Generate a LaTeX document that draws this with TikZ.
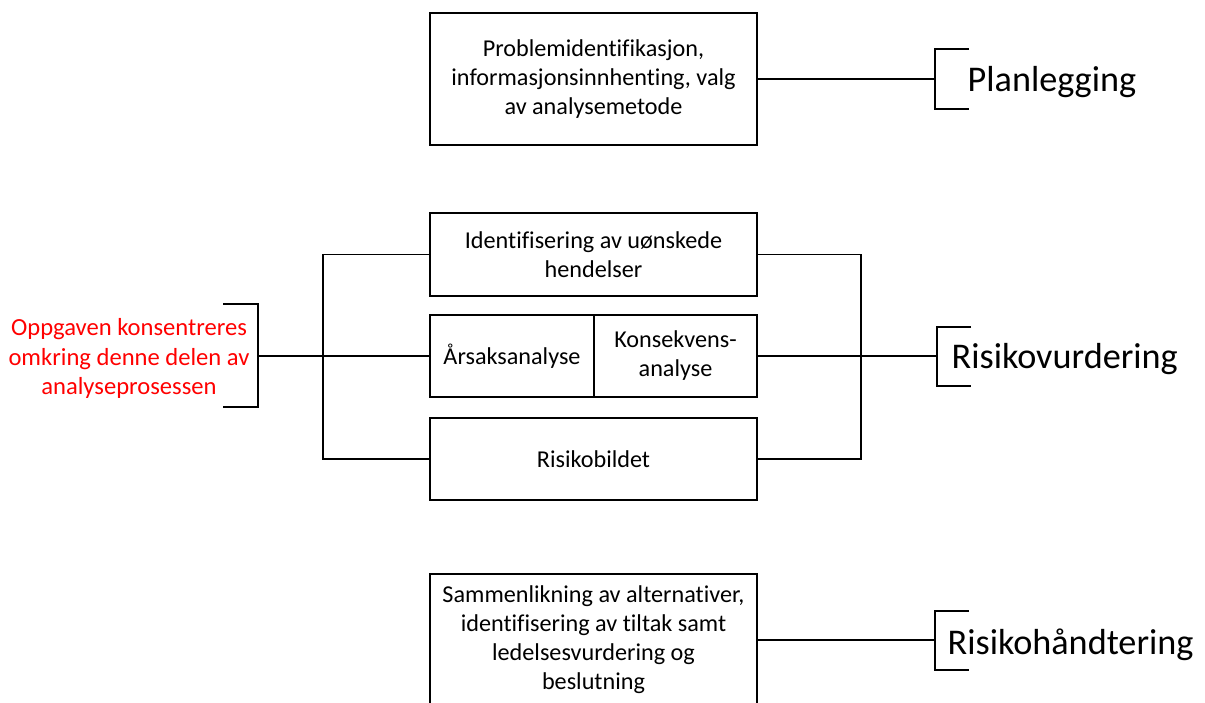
\documentclass[tikz,border=0pt]{standalone}
\usepackage{fontspec}
\setmainfont{Carlito}[Ligatures=NoCommon]
\begin{document}
\begin{tikzpicture}[x=1pt,y=-1pt,line width=1.3pt,
  box/.style={draw,inner sep=0pt,align=center,minimum width=327pt,
    font=\fontsize{24.2}{29}\selectfont},
  halfbox/.style={box,minimum height=82pt},
  tag/.style={inner sep=0pt,anchor=base west,font=\fontsize{36.2}{42}\selectfont},
  note/.style={inner sep=0pt,align=center,text={rgb,255:red,255;green,0;blue,0},
    font=\fontsize{24.6}{29.5}\selectfont}]
\useasboundingbox (0,0) rectangle (1205,702);
\clip (0,0) rectangle (1205,702);

% boxes
\node[box,minimum height=132pt] (top) at (593.5,79)
  {Problemidentifikasjon,\\informasjonsinnhenting, valg\\av analysemetode};
\node[box,minimum height=83pt] (b1) at (593.5,254.5)
  {Identifisering av uønskede\\hendelser};
\node[halfbox,minimum width=164pt] (b2l) at (512,356) {Årsaksanalyse};
\node[halfbox,minimum width=163pt] (b2r) at (675.5,356) {Konsekvens-\\analyse};
\node[box,minimum height=82pt] (b3) at (593.5,459) {Risikobildet};
\node[box,minimum height=132pt] (bot) at (593.5,640)
  {Sammenlikning av alternativer,\\identifisering av tiltak samt\\ledelsesvurdering og\\beslutning};

% labels
\node[tag] (plan) at (967,91) {Planlegging};
\node[tag] (vurd) at (951,368) {Risikovurdering};
\node[tag] (hand) at (947,654) {Risikohåndtering};
\node[note] (red) at (129,358.5) {Oppgaven konsentreres\\omkring denne delen av\\analyseprosessen};

% junction coordinates
\coordinate (pb) at (935,79);
\coordinate (lj) at (323,356);
\coordinate (rj) at (861,356);
\coordinate (rb) at (258,356);
\coordinate (qb) at (937,356);
\coordinate (hb) at (935,640);

% connectors
\draw (top.east) -- (pb);
\draw (b1.west) -| (lj);
\draw (lj) |- (b3.west);
\draw (rb) -- (b2l.west);
\draw (b1.east) -| (rj);
\draw (rj) |- (b3.east);
\draw (b2r.east) -- (qb);
\draw (bot.east) -- (hb);

% brackets
\draw (969,49) -- (935,49) -- (935,109) -- (969,109);
\draw (223,304) -- (258,304) -- (258,407) -- (223,407);
\draw (971,327) -- (937,327) -- (937,386) -- (971,386);
\draw (969,611) -- (935,611) -- (935,670) -- (969,670);
\end{tikzpicture}
\end{document}
